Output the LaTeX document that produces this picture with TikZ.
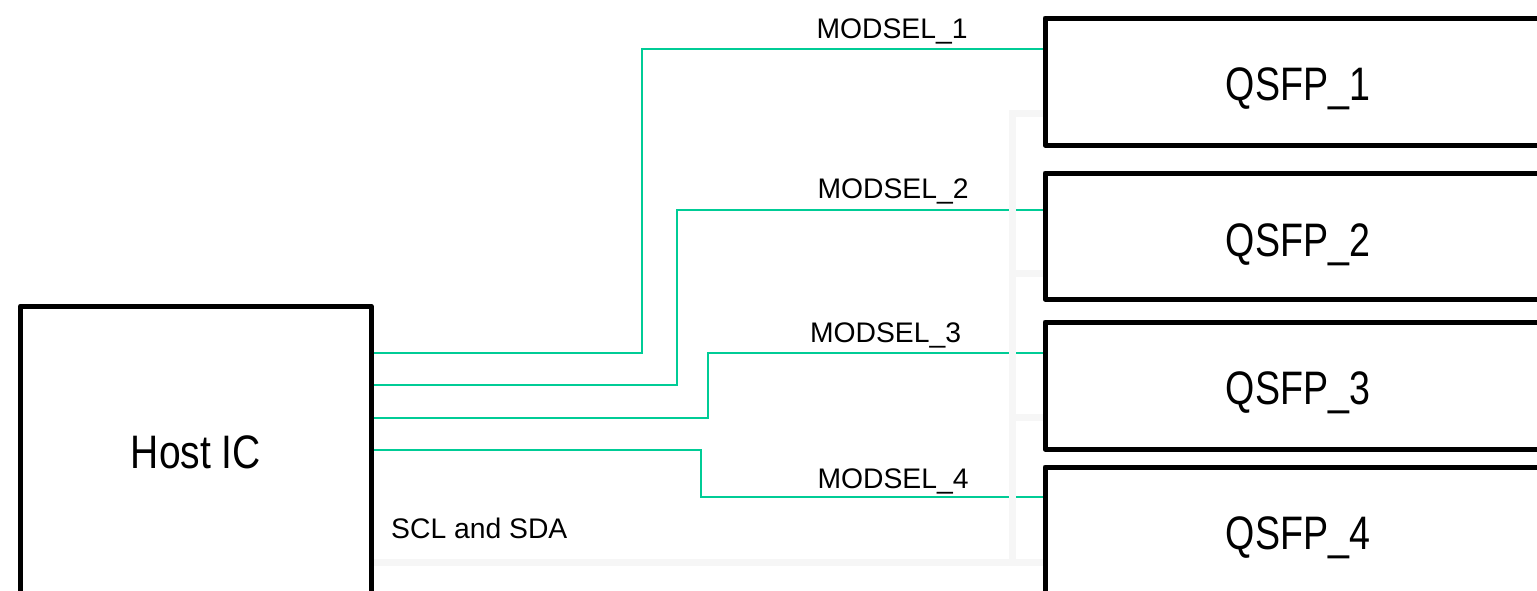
\documentclass[tikz,border=0pt]{standalone}
\usepackage{fontspec}
\usepackage{graphicx}
\setmainfont{Liberation Sans}
\definecolor{sigcol}{RGB}{0,204,150}
\definecolor{buscol}{RGB}{246,246,246}
\newcommand\lblfont{\fontsize{28.3}{30}\selectfont}
\newcommand\bigfont{\fontsize{47}{50}\selectfont}
\newcommand\narrow[2][0.8]{\scalebox{#1}[1]{#2}}
\begin{document}
\begin{tikzpicture}[x=1pt,y=-1pt,
  box/.style={draw=none, fill=none, rectangle, anchor=north west,
              outer sep=0pt, inner sep=0pt},
  edge/.style={draw=black, line width=5pt, line join=round},
  sig/.style={draw=sigcol, line width=2pt},
  bus/.style={draw=buscol, line width=7pt},
  lbl/.style={font=\lblfont, anchor=base, inner sep=0pt},
  big/.style={font=\bigfont, anchor=base, inner sep=0pt}]
\useasboundingbox (0,0) rectangle (1537,590);
\clip (0,0) rectangle (1537,590);

% block outlines are placed first, stroked last
\coordinate (hostnw) at (20.5,306);
\coordinate (q1nw) at (1045,18);
\coordinate (q2nw) at (1045,173);
\coordinate (q3nw) at (1045,322);
\coordinate (q4nw) at (1045,467);
\path (hostnw) node[box, minimum width=350.5pt, minimum height=400pt] (host) {};
\path (q1nw) node[box, minimum width=600pt, minimum height=127pt] (q1) {};
\path (q2nw) node[box, minimum width=600pt, minimum height=126pt] (q2) {};
\path (q3nw) node[box, minimum width=600pt, minimum height=127pt] (q3) {};
\path (q4nw) node[box, minimum width=600pt, minimum height=200pt] (q4) {};

% module select lines
\coordinate (k1) at (642,49);
\coordinate (k2) at (677,210);
\coordinate (k3) at (708,353);
\coordinate (k4) at (701,497);
\draw[sig] ([yshift=-47pt]host.north east) -| (k1) -- (k1 -| q1.west);
\draw[sig] ([yshift=-79pt]host.north east) -| (k2) -- (k2 -| q2.west);
\draw[sig] ([yshift=-112pt]host.north east) -| (k3) -- (k3 -| q3.west);
\draw[sig] ([yshift=-144pt]host.north east) -| (k4) -- (k4 -| q4.west);

% shared SCL/SDA bus
\coordinate (bt) at (1012,113);
\coordinate (bb) at (1012,562);
\draw[bus] ([yshift=-95pt]q1.north west) -- (bt) -- (bb) -- (bb -| host.east);
\draw[bus] (bb) -- (bb -| q4.west);
\draw[bus] ([yshift=-100pt]q2.north west) -- ++(-33,0);
\draw[bus] ([yshift=-95pt]q3.north west) -- ++(-33,0);

% block outlines
\draw[edge] (host.south west) -- (host.north west) -- (host.north east) -- (host.south east);
\foreach \q in {q1,q2,q3} {
  \draw[edge] (\q.north east) -- (\q.north west) -- (\q.south west) -- (\q.south east);
}
\draw[edge] (q4.north east) -- (q4.north west) -- (q4.south west);

% texts
\node[big] (thost) at (196,468) {\narrow[0.83]{Host IC}};
\node[big] (tq1) at (1298,100) {\narrow{QSFP\_1}};
\node[big] (tq2) at (1298,256) {\narrow{QSFP\_2}};
\node[big] (tq3) at (1298,404) {\narrow{QSFP\_3}};
\node[big] (tq4) at (1298,549) {\narrow{QSFP\_4}};
\node[lbl] (m1) at (892,38) {MODSEL\_1};
\node[lbl] (m2) at (893,198) {MODSEL\_2};
\node[lbl] (m3) at (885.5,342) {MODSEL\_3};
\node[lbl] (m4) at (893,488) {MODSEL\_4};
\node[lbl, anchor=base west] (scl) at (391,538) {SCL and SDA};
\end{tikzpicture}
\end{document}
